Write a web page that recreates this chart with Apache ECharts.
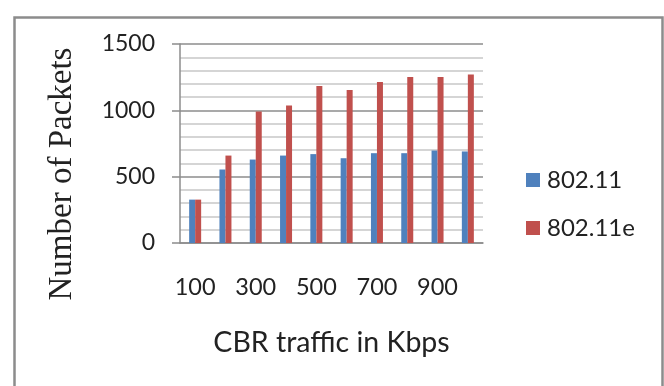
<!DOCTYPE html>
<html>
<head>
<meta charset="utf-8">
<script src="https://cdn.jsdelivr.net/npm/echarts@6/dist/echarts.min.js"></script>
<style>html,body{margin:0;padding:0;background:#fff}#c{width:664px;height:386px}</style>
</head>
<body>
<div id="c"></div>
<script>
const categories = ['100','200','300','400','500','600','700','800','900','1000'];
const series80211 = [327, 554, 629, 659, 670, 639, 677, 677, 697, 690];
const series80211e = [327, 659, 992, 1037, 1183, 1153, 1213, 1251, 1251, 1271];
const yTicks = [0, 500, 1000, 1500];
const xTitle = 'CBR traffic in Kbps';
const yTitle = 'Number of Packets';

const sansFont = 'Lato';
const chart = echarts.init(document.getElementById('c'), null, {renderer: 'canvas'});
chart.setOption({
  animation: false,
  backgroundColor: '#fff',
  graphic: [{
    type: 'rect', left: 12, top: 15, z: 100,
    shape: {width: 648, height: 420},
    style: {fill: 'none', stroke: '#8c8c8c', lineWidth: 2.5}
  }, {
    type: 'text', x: 62, y: 174, rotation: Math.PI / 2, z: 100,
    style: {text: yTitle, font: '33px "Liberation Serif"', fill: '#222',
            align: 'center', verticalAlign: 'middle'}
  }],
  grid: {left: 180, right: 181, top: 44, bottom: 143, containLabel: false},
  legend: {
    orient: 'vertical', left: 521, top: 163, itemWidth: 14, itemHeight: 14, itemGap: 24,
    icon: 'rect',
    textStyle: {fontFamily: sansFont, fontSize: 24, color: '#222', padding: [0,0,0,2]},
    data: ['802.11', '802.11e']
  },
  xAxis: {
    type: 'category', data: categories,
    name: xTitle, nameLocation: 'middle', nameGap: 85,
    nameTextStyle: {fontFamily: sansFont, fontSize: 28.5, color: '#222'},
    axisLine: {lineStyle: {color: '#8c8c8c', width: 1.5}},
    axisTick: {show: false},
    axisLabel: {interval: 1, margin: 32, fontFamily: sansFont, fontSize: 23.5, color: '#222'},
    splitLine: {show: false}
  },
  yAxis: {
    type: 'value', min: yTicks[0], max: yTicks[yTicks.length-1], interval: 500,
    axisLine: {show: true, lineStyle: {color: '#8c8c8c', width: 1.5}},
    axisTick: {show: true, length: 8, lineStyle: {color: '#8c8c8c', width: 1.5}},
    axisLabel: {margin: 25, fontFamily: sansFont, fontSize: 23, color: '#222',
                formatter: function (v) { return String(v); }},
    splitLine: {show: true, lineStyle: {color: '#8c8c8c', width: 1.5}},
    minorTick: {show: false, splitNumber: 5},
    minorSplitLine: {show: true, lineStyle: {color: '#c8c8c8', width: 1.5}}
  },
  series: [
    {name: '802.11', type: 'bar', data: series80211, barWidth: 6, barGap: '0%',
     itemStyle: {color: '#4f81bd'}},
    {name: '802.11e', type: 'bar', data: series80211e, barWidth: 6, barGap: '0%',
     itemStyle: {color: '#c0504d'}}
  ]
});
</script>
</body>
</html>
